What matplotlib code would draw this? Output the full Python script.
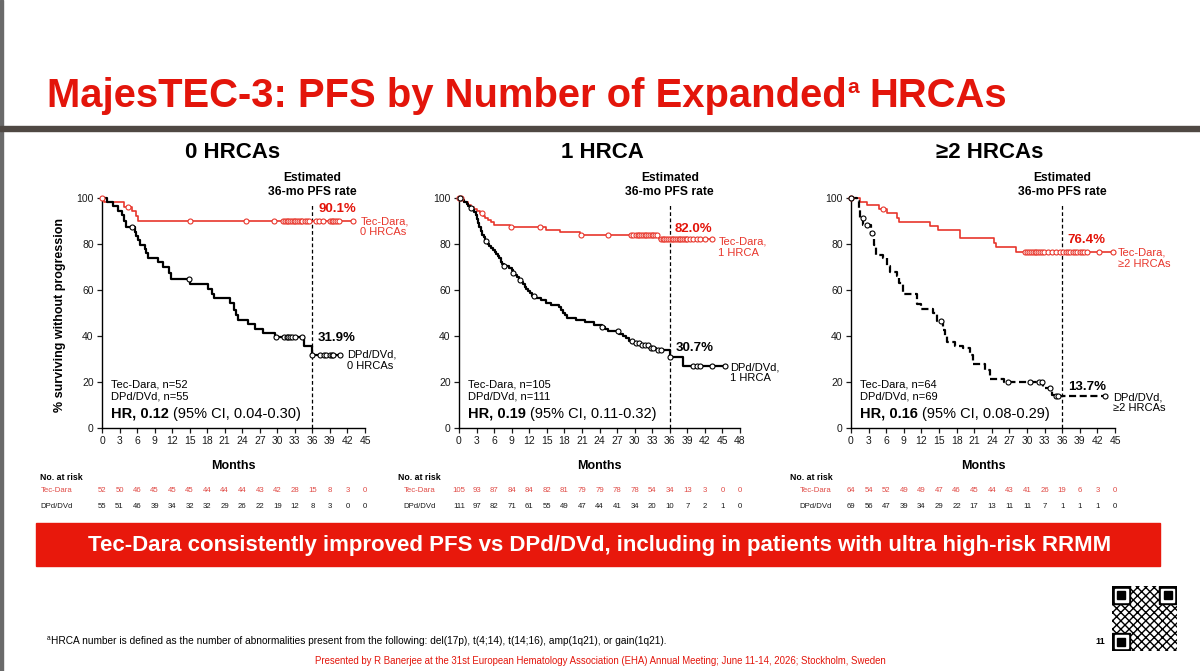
import numpy as np
import matplotlib
matplotlib.use("Agg")
import matplotlib.pyplot as plt
import matplotlib.transforms as mtransforms
from matplotlib.patches import Rectangle

plt.rcParams["font.family"] = ["Liberation Sans", "DejaVu Sans"]

# ---------------- data ----------------
groups = ["0 HRCAs", "1 HRCA", "\u22652 HRCAs"]
x_max = [45, 48, 45]
n_tec = [52, 105, 64]
n_dpd = [55, 111, 69]
hr = ["0.12", "0.19", "0.16"]
hr_ci = ["0.04-0.30", "0.11-0.32", "0.08-0.29"]
pfs36_tec = ["90.1%", "82.0%", "76.4%"]
pfs36_dpd = ["31.9%", "30.7%", "13.7%"]

# 0 HRCAs
tec0_t = [0.3, 3.7, 5.1, 5.8, 6.2]
tec0_s = [98.1, 96.2, 94.2, 92.2, 90.1]
tec0_cens = [0.0, 4.5, 15.1, 24.6, 29.4, 31.0, 31.3, 31.6, 31.9, 32.2, 32.5, 32.8,
             33.1, 33.4, 33.7, 34.0, 34.3, 34.7, 35.1, 35.5, 36.6, 37.2, 37.8,
             39.0, 39.3, 39.6, 39.9, 40.2, 40.5, 42.9]
tec0_end = 42.9
dpd0_t = [0.8, 1.9, 2.8, 3.5, 3.8, 4.1, 5.6, 5.9, 6.2, 6.5, 7.4, 7.6, 7.9, 9.6,
          10.5, 11.4, 11.8, 15.1, 18.2, 18.8, 19.1, 21.9, 22.5, 23.0, 23.3, 25.0,
          26.2, 27.6, 29.6, 34.5, 35.9]
dpd0_s = [98.2, 96.4, 94.5, 92.7, 89.9, 87.3, 85.4, 83.5, 81.6, 79.7, 77.8, 75.9,
          74.0, 72.1, 70.2, 67.3, 64.8, 62.7, 60.5, 58.4, 56.6, 54.3, 51.4, 49.1,
          47.0, 45.2, 43.2, 41.3, 39.5, 35.6, 31.9]
dpd0_cens = [5.1, 14.9, 29.8, 31.2, 31.6, 31.9, 32.2, 32.5, 33.0, 34.3, 35.9, 37.3,
             37.9, 38.4, 39.0, 39.3, 39.6, 40.7]
dpd0_end = 40.7

# 1 HRCA
tec1_t = [0.4, 0.9, 1.5, 2.0, 2.5, 3.0, 3.6, 4.1, 4.5, 5.0, 5.4, 6.0, 8.7, 14.9,
          17.2, 20.6, 34.2]
tec1_s = [99.0, 98.1, 97.1, 96.2, 95.2, 94.2, 93.3, 92.3, 91.3, 90.3, 89.4, 88.4,
          87.3, 86.2, 85.1, 84.0, 82.0]
tec1_cens = [0.0, 0.3, 4.0, 8.8, 13.8, 20.8, 25.5, 29.4, 29.8, 30.2, 30.5, 30.8,
             31.1, 31.4, 31.7, 32.0, 32.3, 32.6, 32.9, 33.2, 33.5, 33.8, 34.5,
             34.8, 35.1, 35.4, 35.7, 36.0, 36.3, 36.6, 36.9, 37.2, 37.5, 37.8,
             38.1, 38.4, 38.7, 39.0, 39.5, 40.0, 40.6, 41.2, 42.0, 43.2]
tec1_end = 43.2
dpd1_t = [0.4, 0.9, 1.3, 1.6, 1.9, 2.2, 2.6, 2.9, 3.1, 3.3, 3.5, 3.7, 3.9, 4.2,
          4.5, 4.9, 5.2, 5.5, 5.8, 6.1, 6.4, 6.6, 6.9, 7.1, 7.4, 7.7, 8.6, 9.0,
          9.3, 9.6, 9.9, 10.3, 10.6, 10.9, 11.2, 11.5, 11.8, 12.1, 12.5, 13.2,
          14.0, 14.8, 15.8, 17.0, 17.5, 17.8, 18.1, 18.4, 20.0, 21.6, 23.0, 24.4,
          24.9, 25.4, 27.3, 28.0, 28.6, 29.0, 29.6, 31.0, 32.4, 33.6, 36.0, 38.3]
dpd1_s = [99.1, 98.2, 97.3, 96.4, 95.5, 94.6, 93.7, 92.8, 91.0, 89.2, 87.4, 85.6,
          83.8, 82.9, 81.1, 80.2, 79.3, 78.4, 77.5, 76.6, 75.7, 74.8, 73.9, 72.1,
          71.2, 70.3, 69.4, 68.5, 67.5, 66.5, 65.5, 64.5, 63.5, 62.5, 61.5, 60.5,
          59.5, 58.5, 57.5, 56.5, 55.5, 54.5, 53.5, 52.4, 51.3, 50.2, 49.1, 48.0,
          47.0, 46.0, 45.0, 44.0, 43.0, 42.0, 41.0, 40.0, 39.0, 38.0, 37.0, 36.0,
          35.0, 34.0, 30.7, 27.0]
dpd1_cens = [0.1, 2.0, 4.6, 7.7, 9.3, 10.4, 12.8, 24.4, 27.2, 29.5, 30.2, 30.8,
             31.2, 31.7, 32.2, 32.8, 33.2, 34.0, 34.5, 36.0, 40.0, 40.6, 41.2,
             43.2, 45.4]
dpd1_end = 45.4

# >=2 HRCAs
tec2_t = [1.5, 2.8, 4.7, 6.1, 7.9, 8.2, 13.5, 14.9, 18.6, 24.3, 24.8, 28.2]
tec2_s = [98.4, 96.8, 95.2, 93.4, 91.5, 89.6, 87.7, 86.0, 82.6, 80.6, 78.7, 76.4]
tec2_cens = [0.0, 5.4, 29.6, 30.0, 30.4, 30.7, 31.0, 31.3, 31.6, 31.9, 32.2, 32.5,
             32.9, 33.6, 34.2, 35.0, 35.6, 36.2, 36.6, 37.0, 37.4, 37.8, 38.2,
             38.6, 39.0, 39.4, 39.8, 40.2, 42.2, 44.6]
tec2_end = 44.6
dpd2_t = [1.0, 1.3, 1.6, 2.1, 3.4, 4.0, 4.3, 5.5, 6.1, 6.7, 7.8, 8.2, 8.9, 11.2,
          12.0, 14.0, 14.6, 15.7, 16.0, 16.3, 17.7, 19.1, 20.3, 20.85, 22.8, 23.7,
          26.0, 32.8, 34.2, 34.8]
dpd2_s = [98.6, 95.7, 91.3, 88.1, 84.6, 79.5, 75.4, 74.0, 70.3, 67.7, 66.2, 63.0,
          58.1, 53.9, 51.9, 50.0, 46.4, 42.8, 40.0, 37.2, 35.8, 34.8, 31.9, 27.8,
          25.1, 21.4, 20.0, 17.4, 14.5, 13.7]
dpd2_cens = [0.0, 2.0, 2.8, 3.6, 15.3, 26.8, 30.5, 32.1, 32.5, 33.9, 34.9, 35.2, 43.3]
dpd2_end = 43.3

risk_tec = [
    [52, 50, 46, 45, 45, 45, 44, 44, 44, 43, 42, 28, 15, 8, 3, 0],
    [105, 93, 87, 84, 84, 82, 81, 79, 79, 78, 78, 54, 34, 13, 3, 0, 0],
    [64, 54, 52, 49, 49, 47, 46, 45, 44, 43, 41, 26, 19, 6, 3, 0],
]
risk_dpd = [
    [55, 51, 46, 39, 34, 32, 32, 29, 26, 22, 19, 12, 8, 3, 0, 0],
    [111, 97, 82, 71, 61, 55, 49, 47, 44, 41, 34, 20, 10, 7, 2, 1, 0],
    [69, 56, 47, 39, 34, 29, 22, 17, 13, 11, 11, 7, 1, 1, 1, 0],
]

tec_curves = [(tec0_t, tec0_s, tec0_end, tec0_cens),
              (tec1_t, tec1_s, tec1_end, tec1_cens),
              (tec2_t, tec2_s, tec2_end, tec2_cens)]
dpd_curves = [(dpd0_t, dpd0_s, dpd0_end, dpd0_cens),
              (dpd1_t, dpd1_s, dpd1_end, dpd1_cens),
              (dpd2_t, dpd2_s, dpd2_end, dpd2_cens)]

# ---------------- layout (pixels on a 1200x671 slide) ----------------
W, H = 1200, 671
RED = "#e3150b"
CURVE_RED = "#e8362c"
RISK_RED = "#e04a45"
layout = [
    dict(left=102, right=365, tec_pct=(37.0, 95.2), dpd_pct=(36.9, 39.1),
         tec_lab=(44.2, 87.5), dpd_lab=(41.9, 29.5), title_x=233,
         risk_lab_x=73, risk_head_x=40),
    dict(left=459, right=740, tec_pct=(36.9, 86.5), dpd_pct=(37.0, 34.6),
         tec_lab=(44.3, 78.6), dpd_lab=(46.3, 24.0), title_x=602,
         risk_lab_x=436, risk_head_x=398),
    dict(left=851, right=1115, tec_pct=(36.8, 81.8), dpd_pct=(37.0, 17.8),
         tec_lab=(45.5, 73.9), dpd_lab=(44.7, 11.0), title_x=990,
         risk_lab_x=832, risk_head_x=790),
]
ax_top, ax_bot = 198, 428


def fy(y):
    return 1 - y / H


def km(ax, t, s, end, cens, color, lw, dashed=False):
    tt = [0] + list(t) + [end]
    ss = [100] + list(s) + [s[-1]]
    ls = (0, (3.2, 1.6)) if dashed else "-"
    ax.step(tt, ss, where="post", color=color, lw=lw, linestyle=ls,
            clip_on=False, zorder=3)
    idx = np.searchsorted(t, cens, side="right")
    cy = np.array([100] + list(s))[idx]
    ax.plot(cens, cy, "o", ms=3.6, mfc="white", mec=color, mew=0.8,
            clip_on=False, zorder=4)


fig = plt.figure(figsize=(12, 6.71), dpi=100)

# slide decorations
fig.patches.append(Rectangle((0, 0), 2.5 / W, 1, transform=fig.transFigure,
                             color="#6a6a6a", zorder=0))
fig.patches.append(Rectangle((0, fy(131)), 1, 4.5 / H, transform=fig.transFigure,
                             color="#4f4843", zorder=0))

# title with superscript
r = fig.canvas.get_renderer()
t1 = fig.text(47 / W, fy(107), "MajesTEC-3: PFS by Number of Expanded",
              fontsize=28.8, weight="bold", color=RED, va="baseline")
bb = t1.get_window_extent(r)
t2 = fig.text((bb.x1 + 1) / W, fy(93), "a", fontsize=15, weight="bold",
              color=RED, va="baseline")
bb2 = t2.get_window_extent(r)
fig.text((bb2.x1 + 10) / W, fy(107), "HRCAs", fontsize=28.8, weight="bold",
         color=RED, va="baseline")

for i in range(3):
    L = layout[i]
    ax = fig.add_axes([L["left"] / W, fy(ax_bot), (L["right"] - L["left"]) / W,
                       (ax_bot - ax_top) / H])
    ax.set_xlim(0, x_max[i])
    ax.set_ylim(0, 100)
    ax.set_xticks(np.arange(0, x_max[i] + 1, 3))
    ax.set_yticks(np.arange(0, 101, 20))
    for sp in ["top", "right"]:
        ax.spines[sp].set_visible(False)
    for sp in ["left", "bottom"]:
        ax.spines[sp].set_linewidth(1.0)
    ax.tick_params(labelsize=7.5, length=3.5, width=0.9, pad=2.5,
                   colors="#1a1a1a")

    km(ax, *tec_curves[i], CURVE_RED, 1.2)
    km(ax, *dpd_curves[i], "black", 1.6, dashed=(i == 2))

    ax.plot([36, 36], [0, 98], color="black", lw=0.9, ls=(0, (3, 2)),
            clip_on=False, zorder=2)
    ax.text(36, 105.8, "Estimated\n36-mo PFS rate", ha="center", va="center",
            fontsize=8.7, weight="bold", linespacing=1.25, clip_on=False)

    ax.text(*L["tec_pct"], pfs36_tec[i], color=RED, fontsize=9.5,
            weight="bold", va="center", ha="left")
    ax.text(*L["dpd_pct"], pfs36_dpd[i], color="black", fontsize=9.5,
            weight="bold", va="center", ha="left")
    ax.text(*L["tec_lab"], "Tec-Dara,\n" + groups[i], color=CURVE_RED,
            fontsize=8, va="center", ha="left", linespacing=1.15, clip_on=False)
    ax.text(*L["dpd_lab"], "DPd/DVd,\n" + groups[i], color="black",
            fontsize=8, va="center", ha="left", linespacing=1.15, clip_on=False)

    ax.text(1.6, 19.1, f"Tec-Dara, n={n_tec[i]}", fontsize=8, va="center")
    ax.text(1.6, 13.6, f"DPd/DVd, n={n_dpd[i]}", fontsize=8, va="center")
    th = ax.text(1.6, 6.3, f"HR, {hr[i]}", fontsize=10.5, weight="bold",
                 va="center")
    ax.annotate(f"(95% CI, {hr_ci[i]})", xy=(1, 0), xycoords=th,
                xytext=(2.8, 0), textcoords="offset points", fontsize=10.5,
                va="bottom", ha="left")

    fig.text(L["title_x"] / W, fy(153), groups[i], fontsize=16, weight="bold",
             ha="center", va="center")

    # months label and number at risk table
    tr = mtransforms.blended_transform_factory(ax.transData, fig.transFigure)
    fig.text(((L["left"] + L["right"]) / 2) / W, fy(466), "Months",
             fontsize=9, weight="bold", ha="center", va="center")
    fig.text(L["risk_head_x"] / W, fy(478), "No. at risk", fontsize=6.3,
             weight="bold", ha="left", va="center")
    fig.text(L["risk_lab_x"] / W, fy(491), "Tec-Dara", fontsize=5.6,
             color=RISK_RED, ha="right", va="center")
    fig.text(L["risk_lab_x"] / W, fy(506), "DPd/DVd", fontsize=5.6,
             color="#1a1a1a", ha="right", va="center")
    months = np.arange(0, x_max[i] + 1, 3)
    for m, a, b in zip(months, risk_tec[i], risk_dpd[i]):
        fig.text(m, fy(491), str(a), transform=tr, fontsize=5.6,
                 color=RISK_RED, ha="center", va="center")
        fig.text(m, fy(506), str(b), transform=tr, fontsize=5.6,
                 color="#1a1a1a", ha="center", va="center")

    if i == 0:
        fig.text(60 / W, fy(315), "% surviving without progression",
                 rotation=90, fontsize=9, weight="bold", ha="center",
                 va="center")

# red banner
fig.patches.append(Rectangle((36 / W, fy(566)), (1160 - 36) / W, 43 / H,
                             transform=fig.transFigure, color="#e8180c",
                             zorder=1))
fig.text(600 / W, fy(545), "Tec-Dara consistently improved PFS vs DPd/DVd, "
         "including in patients with ultra high-risk RRMM", fontsize=16,
         weight="bold", color="white", ha="center", va="center", zorder=2)

# footnotes
fig.text(47 / W, fy(640), "a", fontsize=4.8, va="baseline")
fig.text(51 / W, fy(644), "HRCA number is defined as the number of "
         "abnormalities present from the following: del(17p), t(4;14), "
         "t(14;16), amp(1q21), or gain(1q21).", fontsize=7.3, va="baseline")
fig.text(600 / W, fy(661), "Presented by R Banerjee at the 31st European "
         "Hematology Association (EHA) Annual Meeting; June 11-14, 2026; "
         "Stockholm, Sweden", fontsize=6.9, color=RED, ha="center",
         va="center")
fig.text(1100 / W, fy(641), "11", fontsize=6.5, weight="bold", ha="center",
         va="center")

# QR code placeholder
qr = fig.add_axes([1112 / W, fy(651), 65 / W, 65 / H])
qr.set_xlim(0, 25)
qr.set_ylim(0, 25)
qr.axis("off")
qr.add_patch(Rectangle((0, 0), 25, 25, facecolor="white", edgecolor="black",
                       hatch="xxxx", lw=0))
for (x0, y0) in [(0, 18), (18, 18), (0, 0)]:
    qr.add_patch(Rectangle((x0, y0), 7, 7, color="black"))
    qr.add_patch(Rectangle((x0 + 1, y0 + 1), 5, 5, color="white"))
    qr.add_patch(Rectangle((x0 + 2, y0 + 2), 3, 3, color="black"))

fig.savefig("out.png", dpi=100)
